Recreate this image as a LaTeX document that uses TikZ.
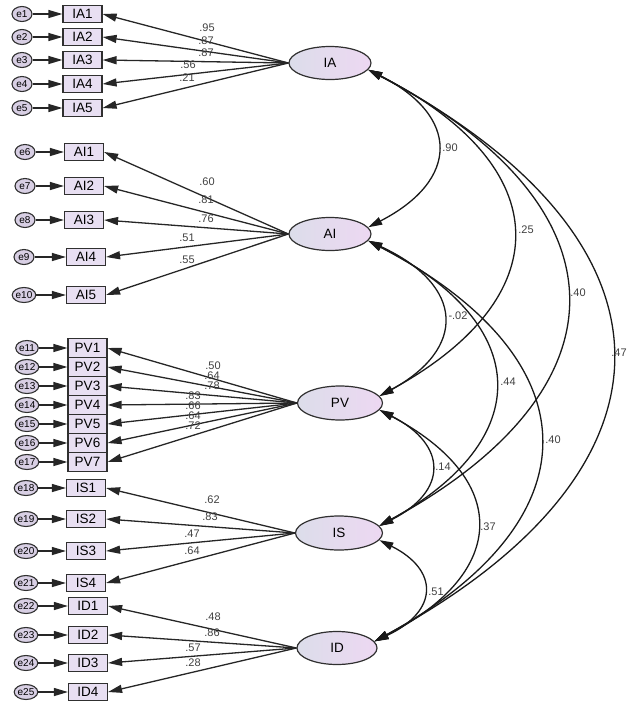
\documentclass[tikz,border=0pt]{standalone}
\usepackage{fontspec}
\setmainfont{Liberation Sans}
\usetikzlibrary{arrows.meta,shapes.geometric}
\definecolor{boxfill}{HTML}{E8DFF2}
\definecolor{ellL}{HTML}{DCDDEA}
\definecolor{ellR}{HTML}{EDD8F2}
\definecolor{efill}{HTML}{D8CFE4}
\definecolor{edgec}{HTML}{303030}
\definecolor{numc}{HTML}{404040}
\begin{document}
\begin{tikzpicture}[x=1pt,y=-1pt,
  obs/.style={draw=edgec,line width=1.2pt,fill=boxfill,minimum width=39pt,minimum height=17pt,inner sep=0pt,font=\fontsize{13.5}{13.5}\selectfont},
  lat/.style={ellipse,draw=edgec,line width=1.2pt,left color=ellL,right color=ellR,minimum width=82pt,minimum height=33pt,inner sep=0pt,font=\fontsize{13.5}{13.5}\selectfont},
  err/.style={ellipse,draw=edgec,line width=1.1pt,fill=efill,minimum width=20pt,minimum height=15pt,inner sep=0pt,font=\fontsize{10}{10}\selectfont},
  arr/.style={line width=1.3pt,draw=black!85,-{Triangle[length=14pt,width=8pt]}},
  cov/.style={line width=1.3pt,draw=black!90,{Triangle[length=14pt,width=8pt]}-{Triangle[length=14pt,width=8pt]}},
  num/.style={font=\fontsize{11}{11}\selectfont,inner sep=0pt,text=numc}]
\useasboundingbox (0,0) rectangle (629,702);

% latent factors
\node[lat] (IA) at (330,63) {IA};
\node[lat] (AI) at (330,234) {AI};
\node[lat,minimum width=85pt,minimum height=34pt] (PV) at (340,403) {PV};
\node[lat,minimum width=87pt,minimum height=34pt] (IS) at (339,533) {IS};
\node[lat,minimum width=80pt] (ID) at (337,648) {ID};

% IA indicators
\node[obs] (IA1) at (82.5,14) {IA1};
\node[obs] (IA2) at (82.5,37) {IA2};
\node[obs] (IA3) at (82.5,60) {IA3};
\node[obs] (IA4) at (82.5,84) {IA4};
\node[obs] (IA5) at (82.5,108) {IA5};
\node[err] (e1) at (22,14) {e1};
\node[err] (e2) at (22,37) {e2};
\node[err] (e3) at (22,60) {e3};
\node[err] (e4) at (22,84) {e4};
\node[err] (e5) at (22,108) {e5};

% AI indicators
\node[obs] (AI1) at (84,152) {AI1};
\node[obs] (AI2) at (84,186) {AI2};
\node[obs] (AI3) at (84,220) {AI3};
\node[obs] (AI4) at (86,257) {AI4};
\node[obs] (AI5) at (86,295) {AI5};
\node[err] (e6) at (25,152) {e6};
\node[err] (e7) at (25,186) {e7};
\node[err] (e8) at (25,220) {e8};
\node[err] (e9) at (24,257) {e9};
\node[err] (e10) at (24,295) {e10};

% PV indicators
\node[obs,minimum height=19pt] (PV1) at (87.5,348) {PV1};
\node[obs,minimum height=19pt] (PV2) at (87.5,367) {PV2};
\node[obs,minimum height=19pt] (PV3) at (87.5,386) {PV3};
\node[obs,minimum height=19pt] (PV4) at (87.5,405) {PV4};
\node[obs,minimum height=19pt] (PV5) at (87.5,424) {PV5};
\node[obs,minimum height=19pt] (PV6) at (87.5,443) {PV6};
\node[obs,minimum height=19pt] (PV7) at (87.5,462) {PV7};
\node[err] (e11) at (27,348) {e11};
\node[err] (e12) at (27,367) {e12};
\node[err] (e13) at (27,386) {e13};
\node[err] (e14) at (27,405) {e14};
\node[err] (e15) at (27,424) {e15};
\node[err] (e16) at (27,443) {e16};
\node[err] (e17) at (27,462) {e17};

% IS indicators
\node[obs] (IS1) at (86,488) {IS1};
\node[obs] (IS2) at (86,519) {IS2};
\node[obs] (IS3) at (86,551) {IS3};
\node[obs] (IS4) at (86,583) {IS4};
\node[err] (e18) at (26,488) {e18};
\node[err] (e19) at (26,519) {e19};
\node[err] (e20) at (26,551) {e20};
\node[err] (e21) at (26,583) {e21};

% ID indicators
\node[obs] (ID1) at (88,606) {ID1};
\node[obs] (ID2) at (88,635) {ID2};
\node[obs] (ID3) at (88,663) {ID3};
\node[obs] (ID4) at (88,692) {ID4};
\node[err] (e22) at (26,606) {e22};
\node[err] (e23) at (26,635) {e23};
\node[err] (e24) at (26,663) {e24};
\node[err] (e25) at (26,692) {e25};

% error arrows
\foreach \e/\b in {e1/IA1,e2/IA2,e3/IA3,e4/IA4,e5/IA5,e6/AI1,e7/AI2,e8/AI3,e9/AI4,e10/AI5,
  e11/PV1,e12/PV2,e13/PV3,e14/PV4,e15/PV5,e16/PV6,e17/PV7,
  e18/IS1,e19/IS2,e20/IS3,e21/IS4,e22/ID1,e23/ID2,e24/ID3,e25/ID4}
  \draw[arr] (\e) -- (\b);

% loadings
\foreach \f/\b in {IA/IA1,IA/IA2,IA/IA3,IA/IA4,IA/IA5,AI/AI1,AI/AI2,AI/AI3,AI/AI4,AI/AI5,
  PV/PV1,PV/PV2,PV/PV3,PV/PV4,PV/PV5,PV/PV6,PV/PV7,IS/IS1,IS/IS2,IS/IS3,IS/IS4,
  ID/ID1,ID/ID2,ID/ID3,ID/ID4}
  \draw[arr] (\f.west) -- (\b.east);

% loading values
\node[num] (l1) at (207,28) {.95};
\node[num] (l2) at (206,41) {.87};
\node[num] (l3) at (206,53) {.87};
\node[num] (l4) at (188,65) {.56};
\node[num] (l5) at (187,78) {.21};
\node[num] (l6) at (207,182) {.60};
\node[num] (l7) at (206,200) {.81};
\node[num] (l8) at (206,219) {.76};
\node[num] (l9) at (187,238) {.51};
\node[num] (l10) at (187,260) {.55};
\node[num] (l11) at (213,366) {.50};
\node[num] (l12) at (212,376) {.64};
\node[num] (l13) at (212,386) {.78};
\node[num] (l14) at (193,396) {.83};
\node[num] (l15) at (193,406) {.66};
\node[num] (l16) at (193,416) {.64};
\node[num] (l17) at (193,426) {.72};
\node[num] (l18) at (212,500) {.62};
\node[num] (l19) at (210,517) {.83};
\node[num] (l20) at (192,534) {.47};
\node[num] (l21) at (192,551) {.64};
\node[num] (l22) at (213,617) {.48};
\node[num] (l23) at (212,633) {.86};
\node[num] (l24) at (193,648) {.57};
\node[num] (l25) at (193,663) {.28};

% covariances
\draw[cov] (IA.-10) .. controls (460,116) and (460,180) .. (AI.10);
\draw[cov] (IA.-10) .. controls (559,167) and (559,298) .. (PV.10);
\draw[cov] (IA.-10) .. controls (631,206) and (631,389) .. (IS.10);
\draw[cov] (IA.-10) .. controls (692,241) and (692,469) .. (ID.10);
\draw[cov] (AI.-10) .. controls (466,286) and (466,349) .. (PV.10);
\draw[cov] (AI.-10) .. controls (535,325) and (535,440) .. (IS.10);
\draw[cov] (AI.-10) .. controls (596,360) and (596,520) .. (ID.10);
\draw[cov] (PV.-10) .. controls (448,445) and (448,491) .. (IS.10);
\draw[cov] (PV.-10) .. controls (510,479) and (510,572) .. (ID.10);
\draw[cov] (IS.-10) .. controls (439,570) and (439,611) .. (ID.10);

\node[num] (c1) at (450,148) {.90};
\node[num] (c2) at (526,230) {.25};
\node[num] (c3) at (578,293) {.40};
\node[num] (c4) at (619,353) {.47};
\node[num] (c5) at (458,316) {-.02};
\node[num] (c6) at (508,382) {.44};
\node[num] (c7) at (553,440) {.40};
\node[num] (c8) at (443,467) {.14};
\node[num] (c9) at (488,527) {.37};
\node[num] (c10) at (436,592) {.51};
\end{tikzpicture}
\end{document}
